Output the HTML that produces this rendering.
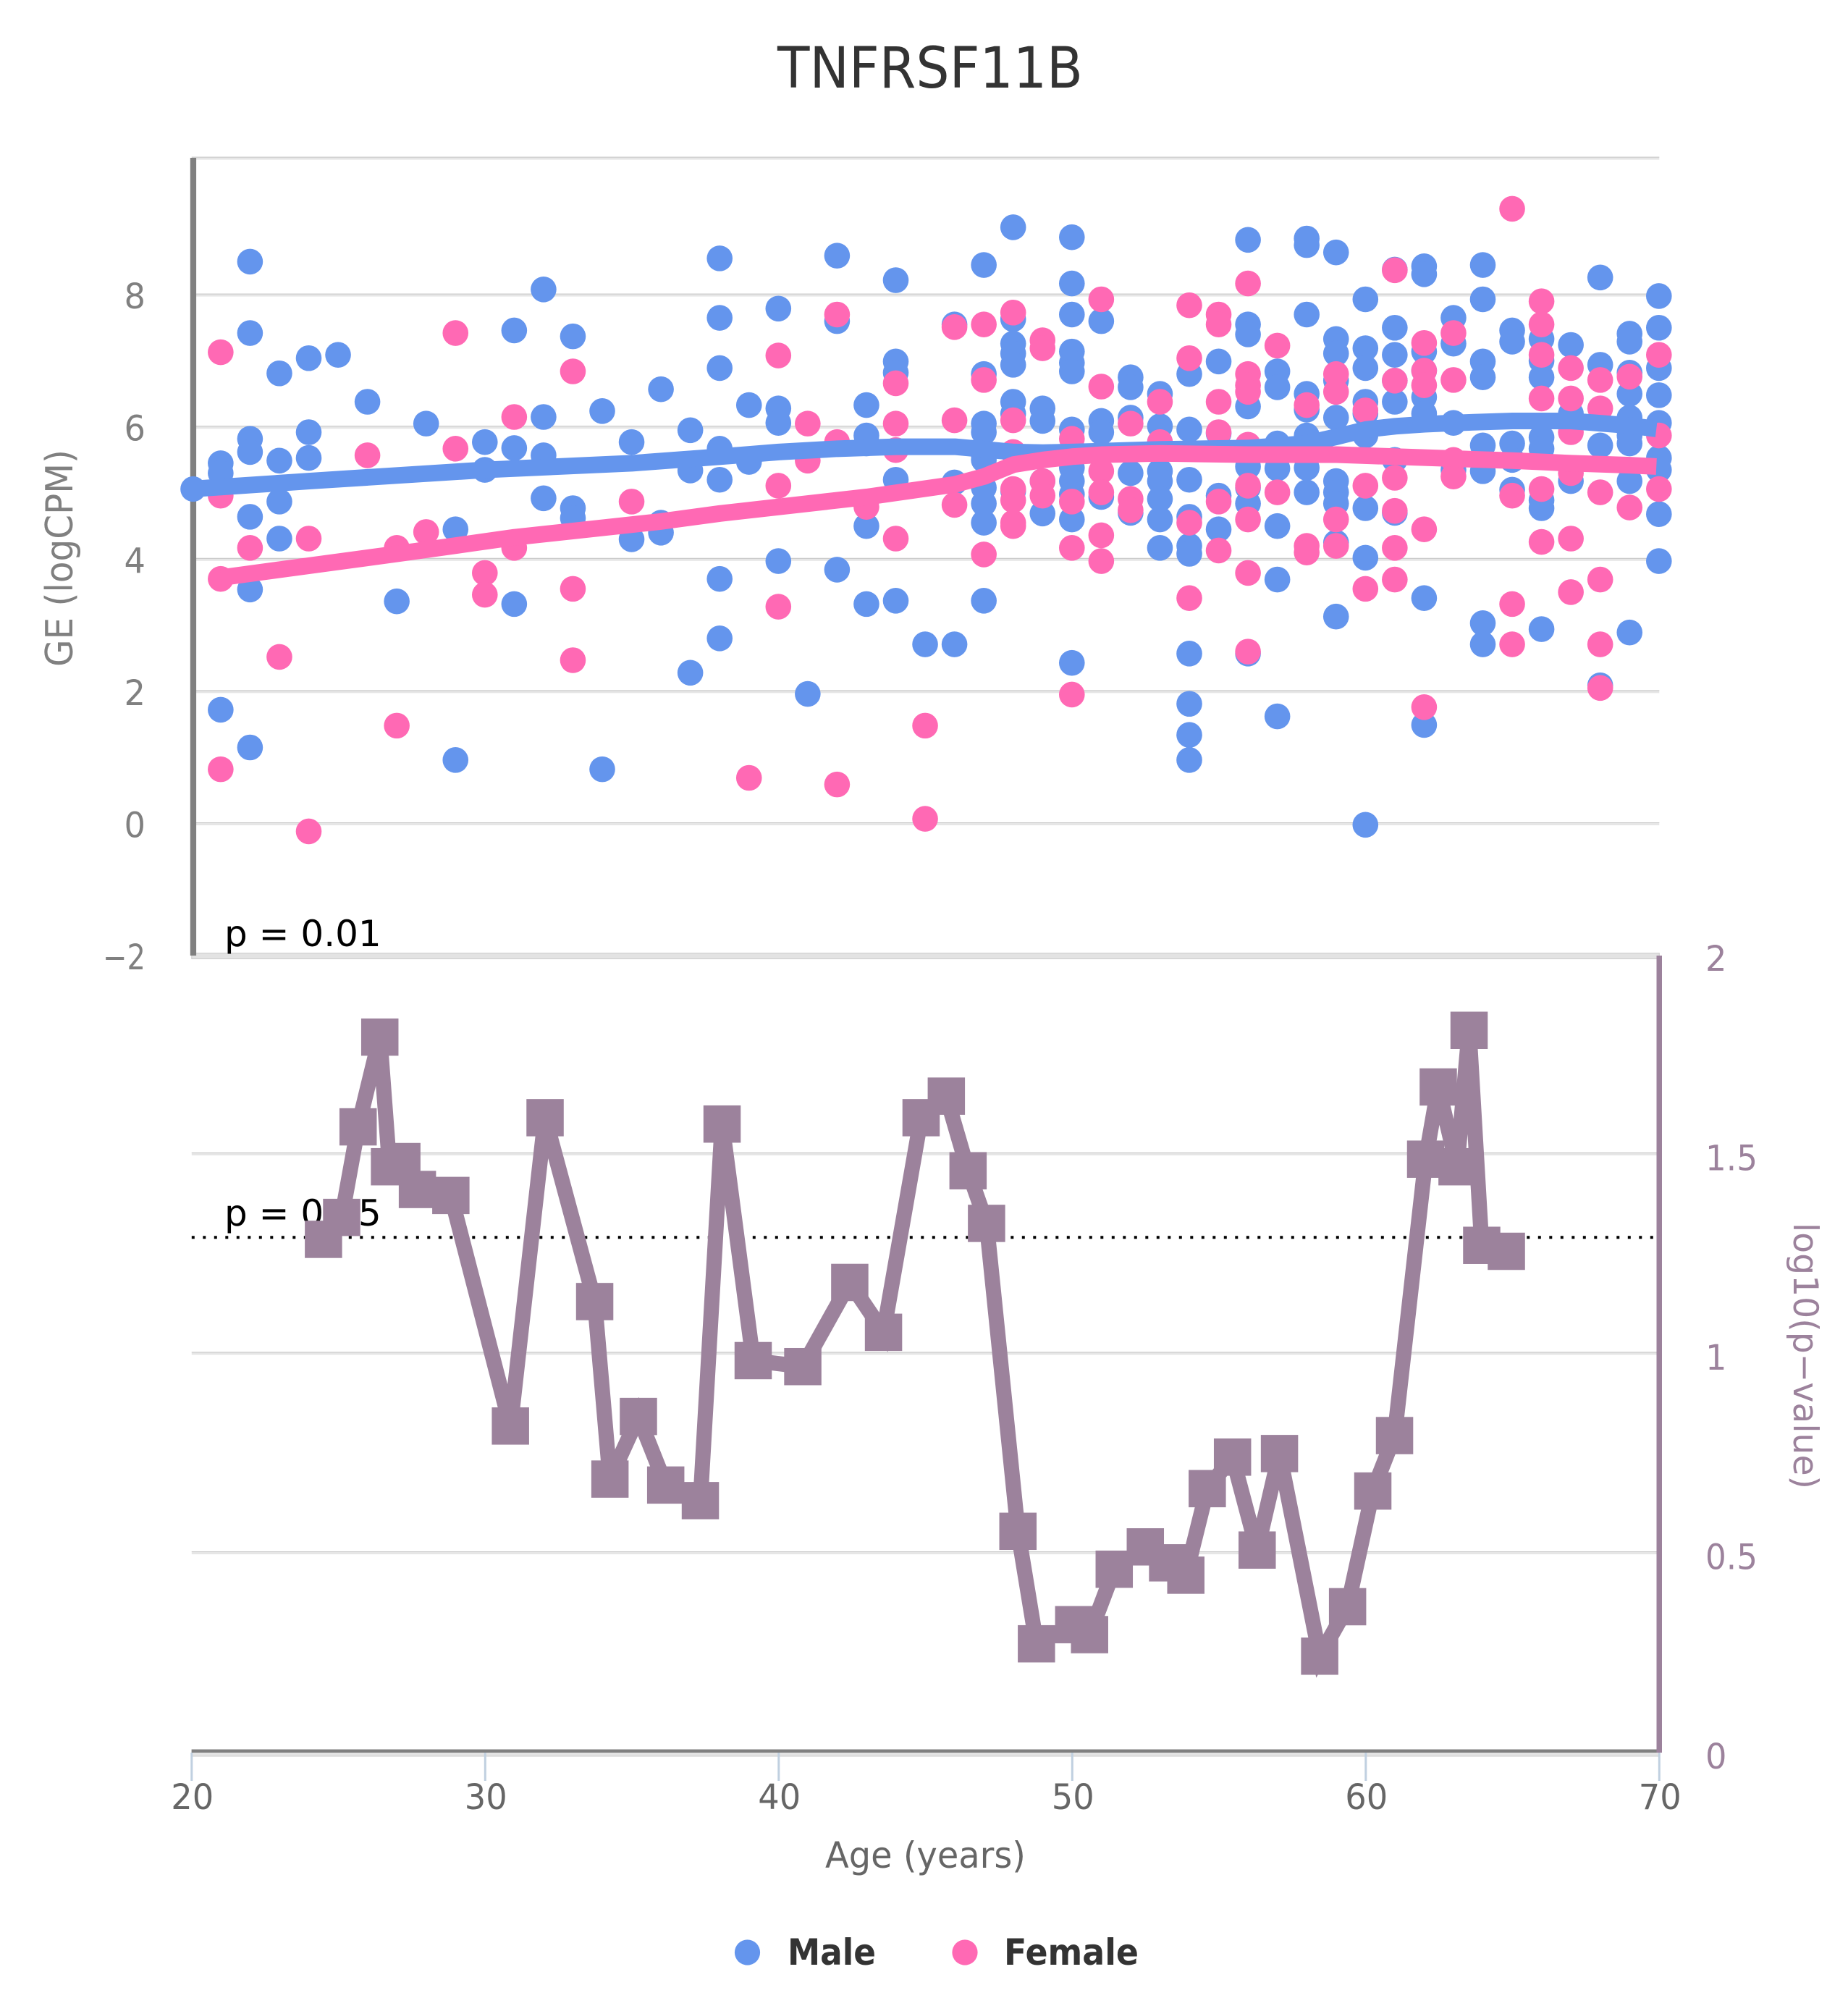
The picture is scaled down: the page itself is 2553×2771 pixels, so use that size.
<!DOCTYPE html>
<html lang="en">
<head>
<meta charset="utf-8">
<title>TNFRSF11B</title>
<style>
html,body{margin:0;padding:0;background:#fff;width:2553px;height:2771px;overflow:hidden}
svg{display:block}
text{font-family:"DejaVu Sans","Liberation Sans",sans-serif}
</style>
</head>
<body>
<svg id="chart" xmlns="http://www.w3.org/2000/svg" width="2553" height="2771" viewBox="0 0 2553 2771">
  <rect x="0" y="0" width="2553" height="2771" fill="#ffffff"/>
  <g id="grid-layer"></g>
  <line id="threshold" stroke="#000" stroke-width="4" stroke-dasharray="4 11.5"/>
  <text x="310" y="1307" font-size="50" fill="#000">p = 0.01</text>
  <text x="310" y="1693" font-size="50" fill="#000">p = 0.05</text>
  <g id="axis-layer"></g>
  <g id="pvalue-layer"></g>
  <g id="scatter-layer"></g>
  <g id="trend-layer"></g>
  <text x="1074" y="121" font-size="78" fill="#333333" textLength="422" lengthAdjust="spacingAndGlyphs">TNFRSF11B</text>
  <text transform="translate(100,921) rotate(-90)" font-size="52" fill="#808080" textLength="300" lengthAdjust="spacingAndGlyphs">GE (logCPM)</text>
  <text transform="translate(2478,1689) rotate(90)" font-size="47" fill="#9c829c" textLength="368" lengthAdjust="spacingAndGlyphs">log10(p−value)</text>
  <text x="1140" y="2580" font-size="50" fill="#666666" textLength="277" lengthAdjust="spacingAndGlyphs">Age (years)</text>
  <g>
    <circle cx="1032.5" cy="2697" r="17.6" fill="#6495ED"/>
    <text x="1088" y="2714" font-size="50" font-weight="bold" fill="#333333" textLength="122" lengthAdjust="spacingAndGlyphs">Male</text>
  </g>
  <g>
    <circle cx="1333" cy="2697" r="17.6" fill="#FF69B4"/>
    <text x="1387" y="2714" font-size="50" font-weight="bold" fill="#333333" textLength="186" lengthAdjust="spacingAndGlyphs">Female</text>
  </g>
</svg>
<script>
const ageCategories=[21,22,23,24,25,26,27,28,29,30,31,32,33,34,35,36,37,38,39,40,41,42,43,44,45,46,47,48,49,50,51,52,53,54,55,56,57,58,59,60,61,62,63,64,65,66,67,68,69,70];
const maleGE=[
[5.45,5.3,1.72],[8.5,7.42,5.82,5.62,4.64,3.54,1.15],[6.81,5.49,4.87,4.31],[7.04,5.92,5.53],[7.09],
[6.38],[3.36],[6.05],[4.45,0.96],[5.77,5.35],
[7.46,5.68,3.32],[8.08,6.15,5.57,4.92],[7.37,4.77,4.62],[6.24,0.82],[5.77,4.3],
[6.57,4.55,4.4],[5.95,5.34,2.28],[8.55,7.65,6.89,5.67,5.2,3.7,2.8],[6.33,5.47],[7.79,6.28,6.06,3.97],
[1.96],[8.59,7.6,3.84],[6.33,5.87,5.75,4.5,3.32],[8.22,6.99,6.82,5.2,3.37],[2.71],
[7.55,5.16,2.71],[8.45,6.8,6.05,5.92,5.57,5.5,5.08,4.84,4.55,3.37],[9.02,7.63,7.26,7.11,6.94,6.38,6.2,5.03],[6.28,6.09,5.18,4.69],[8.87,8.17,7.7,7.14,6.97,6.84,5.96,5.38,5.18,4.98,4.6,2.43],
[7.6,6.09,5.92,4.94],[6.75,6.6,6.14,5.3,4.7],[6.5,6.01,5.77,5.33,5.18,4.91,4.6,4.17],[6.8,5.96,5.2,4.64,4.2,4.08,2.57,1.81,1.34,0.96],[6.99,5.9,4.96,4.45],
[8.83,7.55,7.4,6.31,5.4,5.08,4.84,2.57],[6.84,6.6,5.75,5.37,4.5,3.69,1.62],[8.85,8.75,7.7,6.5,6.26,5.87,5.38,5.01],[8.64,7.33,7.11,6.7,6.14,5.18,5.01,4.84,4.25,3.13],[7.93,7.19,6.89,6.38,6.2,5.87,4.77,4.02,-0.02],
[8.38,7.5,7.09,6.7,6.38,5.5,4.7],[8.43,8.31,7.14,6.85,6.45,6.2,3.41,1.49],[7.65,7.26,6.06,5.35],[8.45,7.93,6.99,6.75,5.72,5.33,3.03,2.71],[7.46,7.29,5.75,5.5,5.05],
[7.33,7.0,6.75,5.84,5.67,4.89,4.77,2.94],[7.24,6.2,5.18],[8.26,6.94,5.72,2.09],[7.41,7.29,6.82,6.5,6.14,5.87,5.75,5.18,2.89],[7.98,7.5,6.89,6.48,6.06,5.53,5.35,4.68,3.97]
];
const femaleGE=[
[7.13,4.96,3.7,0.82],[4.17],[2.52],[4.31,-0.12],[],
[5.57],[4.17,1.48],[4.41],[7.42,5.67],[3.79,3.46],
[6.15,4.17],[],[6.84,3.55,2.47],[],[4.87],
[],[],[],[0.69],[7.08,5.11,3.28],
[6.05,5.49],[7.7,5.77,0.59],[4.79],[6.66,6.05,5.65,4.31],[1.48,0.07],
[7.51,6.1,4.82],[7.55,6.71,4.07],[7.73,6.1,5.62,5.06,4.89,4.55,4.5],[7.31,7.19,5.18,4.96],[5.82,4.87,4.17,1.95],
[7.93,6.61,5.33,5.01,4.36,3.97],[6.05,4.91,4.74],[6.38,5.77],[7.84,7.04,4.55,3.41],[7.7,7.55,6.38,5.92,4.87,4.13],
[8.17,6.8,6.63,6.53,5.73,5.11,4.6,3.79,2.6],[7.23,5.01],[6.33,4.2,4.1],[6.8,6.53,4.6,4.2],[6.25,5.11,3.55],
[8.37,6.7,5.23,4.73,4.17,3.69],[7.27,6.85,6.63,4.45,1.76],[7.42,6.71,5.5,5.25],[],[9.3,4.96,3.32,2.71],
[7.9,7.55,7.09,6.43,5.06,4.26],[6.89,6.43,5.92,5.3,4.31,3.5],[6.71,6.28,5.01,3.69,2.71,2.05],[6.76,4.78],[7.09,5.87,5.06]
];
const maleTrendAges=[20,21,24,30,35,38,40,42,44,46,47,48,49,50,53,56,58,59,60,61,62,63,65,67,69,69.9];
const maleTrendValues=[5.06,5.09,5.18,5.35,5.45,5.55,5.62,5.67,5.7,5.7,5.66,5.62,5.61,5.62,5.66,5.68,5.75,5.85,5.96,6.01,6.04,6.06,6.09,6.09,6.02,5.97];
const femaleTrendAges=[21,27,31,36,38,43,46,47,48,49,50,51,53,56,59,61,63,65,67,69,69.9];
const femaleTrendValues=[3.72,4.08,4.33,4.57,4.69,4.94,5.13,5.25,5.43,5.5,5.55,5.58,5.6,5.58,5.58,5.55,5.52,5.49,5.45,5.42,5.4];
const pvalueAges=[24.49,25.11,25.67,26.41,26.74,27.16,27.69,28.83,30.86,32.04,33.73,34.25,35.22,36.15,37.33,38.07,39.13,40.82,42.42,43.57,44.85,45.71,46.45,47.08,48.15,48.78,50.05,50.59,51.43,52.49,53.25,53.87,54.6,55.46,56.3,57.06,58.43,59.38,60.24,60.98,62.04,62.47,63.11,63.52,63.95,64.79];
const pvalueValues=[1.285,1.34,1.567,1.792,1.467,1.48,1.41,1.395,0.817,1.59,1.129,0.684,0.841,0.669,0.63,1.574,0.981,0.966,1.177,1.052,1.59,1.644,1.457,1.325,0.553,0.271,0.319,0.294,0.458,0.514,0.474,0.443,0.66,0.739,0.506,0.748,0.24,0.364,0.654,0.793,1.486,1.667,1.467,1.809,1.27,1.255];
const xTickLabels=[20,30,40,50,60,70];
const geTickLabels=[-2,0,2,4,6,8];
const pvalueTickLabels=[0,0.5,1,1.5,2];
const thresholdValue=1.29;
const geTopValue=10.07;

const SVGNS='http://www.w3.org/2000/svg';
function xScale(age){return 264.8+40.55*(age-20);}
function yGE(v){return 1137.5-91.3*v;}
function yP(v){return 2420-551*v;}
function mk(parent,tag,attrs){
  const el=document.createElementNS(SVGNS,tag);
  for(const k in attrs){el.setAttribute(k,attrs[k]);}
  parent.appendChild(el);
  return el;
}
function labelWidth(s){
  let w=0;
  for(const c of String(s).replace('-','−')){w+=(c==='.')?13:29.5;}
  return w;
}
const grid=document.getElementById('grid-layer');
const axes=document.getElementById('axis-layer');
const pvalueLayer=document.getElementById('pvalue-layer');
const scatter=document.getElementById('scatter-layer');
const trend=document.getElementById('trend-layer');
const xL=xScale(20), xR=xScale(70);

function gridLine(y,x2,name){
  const band=mk(grid,'rect',{x:xL,y:y-1.5,width:x2-xL,height:4,fill:'#e6e6e6'});
  
  
  const edge=mk(grid,'rect',{x:xL,y:y-1.5,width:x2-xL,height:1,fill:'#c6c6c6'});
  
  
}
gridLine(yGE(geTopValue),xR,'ge-gridline-top');
geTickLabels.forEach(function(t){
  if(t===-2){return;}
  gridLine(yGE(t),xR,'ge-gridline');
});
const midBand=mk(grid,'rect',{x:xL,y:1316.5,width:xR-xL,height:8,fill:'#e3e3e3',stroke:'#cccccc','stroke-width':1});


pvalueTickLabels.forEach(function(t){
  if(t===0||t===2){return;}
  gridLine(yP(t),xR-3,'pvalue-gridline');
});

const th=document.getElementById('threshold');
th.setAttribute('x1',xL);th.setAttribute('x2',xR-3);
th.setAttribute('y1',yP(thresholdValue));th.setAttribute('y2',yP(thresholdValue));

const xStrip=mk(axes,'rect',{x:xL,y:2417,width:xR-xL,height:9,fill:'#e3e3e3',stroke:'#cccccc','stroke-width':1});


xTickLabels.forEach(function(t){
  const tick=mk(axes,'rect',{x:xScale(t)-1.5,y:2421,width:3,height:39,fill:'#c0d0e0'});
  
  
  const lab=mk(axes,'text',{x:xScale(t)+1,y:2499,'font-size':48,fill:'#666666','text-anchor':'middle',textLength:labelWidth(t),lengthAdjust:'spacingAndGlyphs'});
  lab.textContent=String(t);
  
  
});
const xLine=mk(axes,'rect',{x:xL,y:2416.5,width:xR-xL,height:4.5,fill:'#808080'});


const leftLine=mk(axes,'rect',{x:262.8,y:218,width:8.3,height:1102,fill:'#808080'});


const rightLine=mk(axes,'rect',{x:2288.5,y:1320,width:7.5,height:1101,fill:'#9c829c'});


geTickLabels.forEach(function(t){
  const lab=mk(axes,'text',{x:201,y:yGE(t)+19,'font-size':48,fill:'#808080','text-anchor':'end',textLength:labelWidth(t),lengthAdjust:'spacingAndGlyphs'});
  lab.textContent=String(t).replace('-','−');
  
  
});
pvalueTickLabels.forEach(function(t){
  const lab=mk(axes,'text',{x:2356,y:yP(t)+23,'font-size':48,fill:'#9c829c',textLength:labelWidth(t),lengthAdjust:'spacingAndGlyphs'});
  lab.textContent=String(t);
  
  
});

const pLine=mk(pvalueLayer,'polyline',{points:pvalueAges.map(function(a,i){return xScale(a)+','+yP(pvalueValues[i]);}).join(' '),fill:'none',stroke:'#9c829c','stroke-width':21,'stroke-linejoin':'miter','stroke-miterlimit':3});


pvalueAges.forEach(function(a,i){
  const m=mk(pvalueLayer,'rect',{x:xScale(a)-25.75,y:yP(pvalueValues[i])-25.75,width:51.5,height:51.5,fill:'#9c829c'});
  
  
});

ageCategories.forEach(function(age,i){
  maleGE[i].forEach(function(v){
    const c=mk(scatter,'circle',{cx:xScale(age)-0.5,cy:yGE(v),r:17.8,fill:'#6495ED'});
    
    
  });
});
ageCategories.forEach(function(age,i){
  femaleGE[i].forEach(function(v){
    const c=mk(scatter,'circle',{cx:xScale(age)-0.5,cy:yGE(v),r:17.8,fill:'#FF69B4'});
    
    
  });
});

const maleLine=mk(trend,'polyline',{points:maleTrendAges.map(function(a,i){return xScale(a)+','+yGE(maleTrendValues[i]);}).join(' '),fill:'none',stroke:'#6495ED','stroke-width':23,'stroke-linejoin':'round'});


const maleStart=mk(trend,'circle',{cx:xScale(maleTrendAges[0])+2,cy:yGE(maleTrendValues[0]),r:17.6,fill:'#6495ED'});


const femaleLine=mk(trend,'polyline',{points:femaleTrendAges.map(function(a,i){return xScale(a)+','+yGE(femaleTrendValues[i]);}).join(' '),fill:'none',stroke:'#FF69B4','stroke-width':23,'stroke-linejoin':'round'});


</script>
</body>
</html>
